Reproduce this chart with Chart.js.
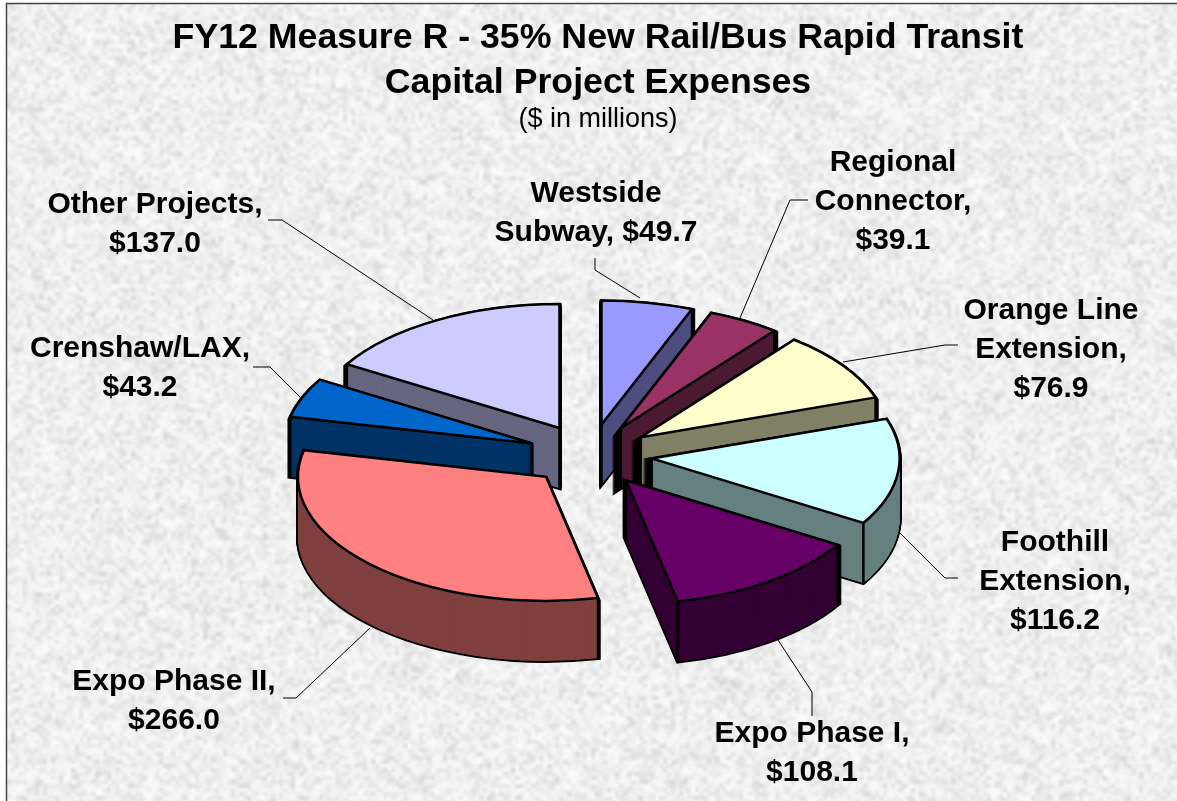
<!DOCTYPE html>
<html><head><meta charset="utf-8">
<style>html,body{margin:0;padding:0;background:#fff}canvas{display:block}</style>
<script src="https://cdn.jsdelivr.net/npm/chart.js@4"></script>
</head><body><canvas id="c" width="1177" height="801"></canvas>
<script>
const categories = ['Westside Subway','Regional Connector','Orange Line Extension','Foothill Extension','Expo Phase I','Expo Phase II','Crenshaw/LAX','Other Projects'];
const values = [49.7,39.1,76.9,116.2,108.1,266.0,43.2,137.0];
const topColors = ['#9999FF','#993366','#FFFFCC','#CCFFFF','#660066','#FF8080','#0066CC','#CCCCFF'];
const wallColors = ['#4D4D80','#4D1A33','#808066','#668080','#330033','#804040','#003366','#666680'];
const labelLines = [['Westside','Subway, $49.7'],['Regional','Connector,','$39.1'],['Orange Line','Extension,','$76.9'],['Foothill','Extension,','$116.2'],['Expo Phase I,','$108.1'],['Expo Phase II,','$266.0'],['Crenshaw/LAX,','$43.2'],['Other Projects,','$137.0']];
const titleLines = ['FY12 Measure R - 35% New Rail/Bus Rapid Transit','Capital Project Expenses'];
const subtitleText = '($ in millions)';

const FONT = '"Liberation Sans", Arial, sans-serif';
const pie = {cx:590, cy:455, rx:248, squash:0.5, depth:60, explode:62};
const paintOrder = [0,7,1,6,2,3,4,5];
const labelPos = [[596,194],[893,163],[1051,311],[1055,543],[812,734],[174,682],[140,349],[155,205]];
const labelGap = 39;
const leaders = [
 [[595,258],[595,270],[640,298]],
 [[808,200],[790,200],[740,318]],
 [[958,345],[945,345],[843,362]],
 [[958,578],[945,578],[900,533]],
 [[812,716],[812,692],[778,640]],
 [[283,698],[296,698],[370,628]],
 [[253,367],[270,367],[300,397]],
 [[268,220],[282,220],[433,320]]
];

function makeTexture(w,h){
  const out=document.createElement('canvas');out.width=w;out.height=h;
  const g=out.getContext('2d');
  g.fillStyle='#f0f0f0';g.fillRect(0,0,w,h);
  let s=12345;const rnd=()=>{s=(s*1664525+1013904223)>>>0;return s/4294967296;};
  [[4,0.8,200,255,0.42],[9,0.2,195,255,0.5]].forEach(([cell,alpha,lo,hi,pw])=>{
    const nw=Math.ceil(w/cell)+2,nh=Math.ceil(h/cell)+2;
    const n=document.createElement('canvas');n.width=nw;n.height=nh;
    const nc=n.getContext('2d');const img=nc.createImageData(nw,nh);
    for(let i=0;i<nw*nh;i++){const v=lo+(hi-lo)*Math.pow(rnd(),pw);
      img.data[i*4]=img.data[i*4+1]=img.data[i*4+2]=v;img.data[i*4+3]=255;}
    nc.putImageData(img,0,0);
    g.globalAlpha=alpha;g.imageSmoothingEnabled=true;g.imageSmoothingQuality='high';
    g.drawImage(n,0,0,nw*cell,nh*cell);
  });
  g.globalAlpha=1;
  return out;
}

const backdrop={id:'backdrop',beforeDraw(chart){
  const c=chart.ctx;
  c.save();
  c.fillStyle='#fff';c.fillRect(0,0,1177,801);
  c.drawImage(makeTexture(1170,797),7,4);
  c.strokeStyle='#444';c.lineWidth=1.5;
  c.beginPath();c.moveTo(6.5,801);c.lineTo(6.5,3.5);c.lineTo(1177,3.5);c.stroke();
  c.restore();
}};

const exploded3d={id:'exploded3d',beforeDatasetsDraw(chart){
  const c=chart.ctx, arcs=chart.getDatasetMeta(0).data;
  // leader lines beneath the pie
  c.save();c.strokeStyle='#000';c.lineWidth=1;
  leaders.forEach(p=>{c.beginPath();p.forEach((q,i)=>i?c.lineTo(q[0],q[1]):c.moveTo(q[0],q[1]));c.stroke();});
  c.restore();
  const proto=CanvasRenderingContext2D.prototype;
  // strokes stay even in device space although the path is squashed
  c.stroke=function(){c.save();c.setTransform(1,0,0,1,0,0);proto.stroke.call(c);c.restore();};
  const place=(arc,k)=>{
    const mid=(arc.startAngle+arc.endAngle)/2;
    c.translate(pie.cx,pie.cy+k);c.scale(1,pie.squash);
    c.translate(Math.cos(mid)*pie.explode,Math.sin(mid)*pie.explode);
    c.translate(-arc.x,-arc.y);
  };
  const drawAs=(arc,k,over)=>{
    const base=arc.options,o=Object.create(base);Object.assign(o,over);
    arc.options=o;c.save();place(arc,k);arc.draw(c);c.restore();arc.options=base;
  };
  paintOrder.forEach(i=>{
    const arc=arcs[i],col=wallColors[i];
    for(let k=pie.depth;k>=1;k--) drawAs(arc,k,{backgroundColor:'#000',borderColor:'#000',borderWidth:4});
    for(let pass=0;pass<2;pass++) for(let k=pie.depth;k>=0;k--) drawAs(arc,k,{backgroundColor:col,borderWidth:0});
    const mid=(arc.startAngle+arc.endAngle)/2;
    const ox=pie.cx+Math.cos(mid)*pie.explode, oy=pie.cy+Math.sin(mid)*pie.explode*pie.squash;
    const R=arc.outerRadius, a0=arc.startAngle, a1=arc.endAngle;
    const pts=[[ox,oy]];
    if(Math.sin(a0)>0||Math.cos(a0)<0) pts.push([ox+Math.cos(a0)*R,oy+Math.sin(a0)*R*pie.squash]);
    if(Math.sin(a1)>0||Math.cos(a1)>0) pts.push([ox+Math.cos(a1)*R,oy+Math.sin(a1)*R*pie.squash]);
    c.save();c.strokeStyle='#000';c.lineWidth=2.5;
    pts.forEach(p=>{c.beginPath();c.moveTo(p[0],p[1]);c.lineTo(p[0],p[1]+pie.depth);proto.stroke.call(c);});
    c.restore();
    drawAs(arc,0,{});
  });
  delete c.stroke;
  // data labels
  c.save();c.fillStyle='#000';c.font='bold 30px '+FONT;c.textAlign='center';c.textBaseline='middle';
  labelLines.forEach((ls,i)=>ls.forEach((t,j)=>c.fillText(t,labelPos[i][0],labelPos[i][1]+j*labelGap)));
  c.restore();
  return false;
}};

new Chart(document.getElementById('c').getContext('2d'),{
  type:'pie',
  data:{labels:categories,datasets:[{data:values,backgroundColor:topColors,borderColor:'#000',borderWidth:2.5,borderJoinStyle:'miter'}]},
  options:{
    responsive:false,animation:false,radius:pie.rx,rotation:0,
    layout:{padding:{left:19,top:16}},
    events:[],
    plugins:{
      legend:{display:false},tooltip:{enabled:false},
      title:{display:true,text:titleLines,color:'#000',font:{family:FONT,size:35.7,weight:'bold',lineHeight:1.26},padding:{top:0,bottom:0}},
      subtitle:{display:true,text:subtitleText,color:'#000',font:{family:FONT,size:27,weight:'normal',lineHeight:1},padding:{top:0,bottom:0}}
    }
  },
  plugins:[backdrop,exploded3d]
});
</script></body></html>
